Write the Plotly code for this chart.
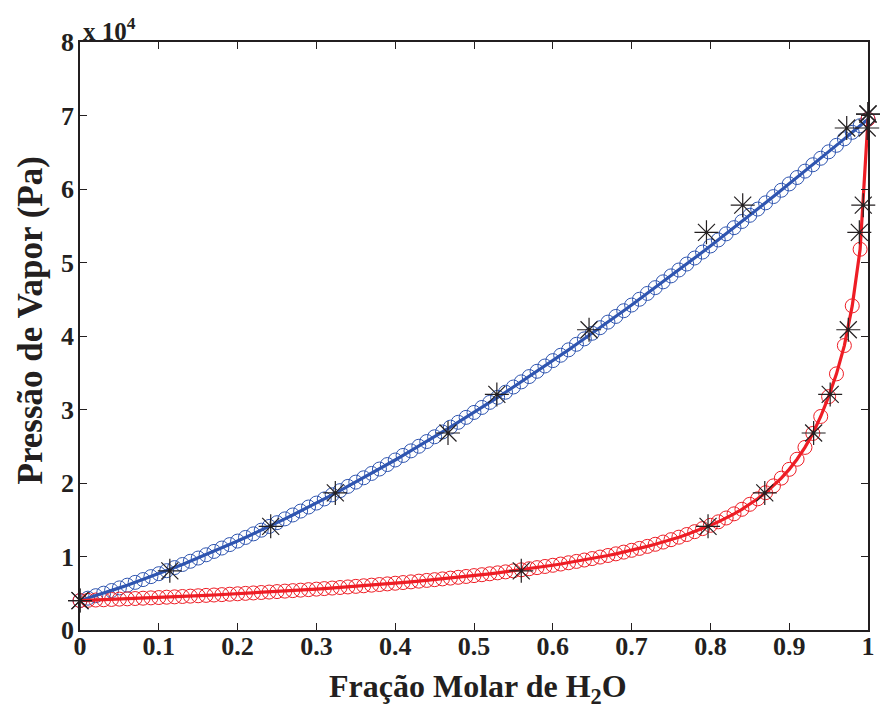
import plotly.graph_objects as go

# Liquid-phase grid (mole fraction of H2O) for the bubble curve
x_liq = [0.00, 0.01, 0.02, 0.03, 0.04, 0.05, 0.06, 0.07, 0.08, 0.09,
         0.10, 0.11, 0.12, 0.13, 0.14, 0.15, 0.16, 0.17, 0.18, 0.19,
         0.20, 0.21, 0.22, 0.23, 0.24, 0.25, 0.26, 0.27, 0.28, 0.29,
         0.30, 0.31, 0.32, 0.33, 0.34, 0.35, 0.36, 0.37, 0.38, 0.39,
         0.40, 0.41, 0.42, 0.43, 0.44, 0.45, 0.46, 0.47, 0.48, 0.49,
         0.50, 0.51, 0.52, 0.53, 0.54, 0.55, 0.56, 0.57, 0.58, 0.59,
         0.60, 0.61, 0.62, 0.63, 0.64, 0.65, 0.66, 0.67, 0.68, 0.69,
         0.70, 0.71, 0.72, 0.73, 0.74, 0.75, 0.76, 0.77, 0.78, 0.79,
         0.80, 0.81, 0.82, 0.83, 0.84, 0.85, 0.86, 0.87, 0.88, 0.89,
         0.90, 0.91, 0.92, 0.93, 0.94, 0.95, 0.96, 0.97, 0.98, 0.99,
         1.00]

# Bubble-point pressure (Pa)
p_bubble = [4000, 4330, 4670, 5010, 5370, 5730, 6100, 6480, 6860, 7260,
            7660, 8070, 8490, 8910, 9350, 9790, 10230, 10690, 11150, 11620,
            12100, 12590, 13080, 13580, 14090, 14600, 15120, 15650, 16180, 16730,
            17270, 17830, 18390, 18960, 19540, 20120, 20710, 21300, 21900, 22510,
            23130, 23750, 24370, 25000, 25640, 26290, 26940, 27600, 28260, 28930,
            29600, 30280, 30970, 31660, 32350, 33060, 33760, 34480, 35200, 35920,
            36650, 37380, 38120, 38870, 39610, 40370, 41130, 41890, 42660, 43440,
            44210, 45000, 45790, 46580, 47370, 48180, 48980, 49790, 50610, 51420,
            52250, 53070, 53900, 54740, 55580, 56420, 57270, 58120, 58970, 59830,
            60690, 61560, 62430, 63300, 64180, 65060, 65940, 66820, 67710, 68610,
            69500]

# Vapour-phase grid (mole fraction of H2O) for the dew curve
y_vap = [0.00, 0.01, 0.02, 0.03, 0.04, 0.05, 0.06, 0.07, 0.08, 0.09,
         0.10, 0.11, 0.12, 0.13, 0.14, 0.15, 0.16, 0.17, 0.18, 0.19,
         0.20, 0.21, 0.22, 0.23, 0.24, 0.25, 0.26, 0.27, 0.28, 0.29,
         0.30, 0.31, 0.32, 0.33, 0.34, 0.35, 0.36, 0.37, 0.38, 0.39,
         0.40, 0.41, 0.42, 0.43, 0.44, 0.45, 0.46, 0.47, 0.48, 0.49,
         0.50, 0.51, 0.52, 0.53, 0.54, 0.55, 0.56, 0.57, 0.58, 0.59,
         0.60, 0.61, 0.62, 0.63, 0.64, 0.65, 0.66, 0.67, 0.68, 0.69,
         0.70, 0.71, 0.72, 0.73, 0.74, 0.75, 0.76, 0.77, 0.78, 0.79,
         0.80, 0.81, 0.82, 0.83, 0.84, 0.85, 0.86, 0.87, 0.88, 0.89,
         0.90, 0.91, 0.92, 0.93, 0.94, 0.95, 0.96, 0.97, 0.98, 0.99,
         1.00]

# Dew-point pressure (Pa)
p_dew = [4000, 4038, 4077, 4116, 4157, 4198, 4240, 4283, 4326, 4371,
         4416, 4463, 4510, 4559, 4608, 4659, 4709, 4762, 4815, 4870,
         4926, 4984, 5042, 5102, 5163, 5226, 5290, 5355, 5422, 5491,
         5561, 5633, 5706, 5781, 5858, 5937, 6018, 6101, 6186, 6273,
         6363, 6455, 6549, 6646, 6745, 6847, 6952, 7060, 7171, 7285,
         7402, 7523, 7648, 7777, 7910, 8047, 8188, 8335, 8486, 8643,
         8806, 8974, 9149, 9331, 9521, 9718, 9923, 10138, 10362, 10597,
         10843, 11102, 11375, 11662, 11965, 12287, 12628, 12991, 13379, 13794,
         14239, 14719, 15239, 15804, 16422, 17099, 17847, 18679, 19610, 20660,
         21857, 23236, 24843, 26744, 29050, 31750, 34850, 38700, 44100, 51800,
         69500]

# Experimental points
p_exp = [4000, 8050, 14100, 18650, 26800, 32050, 40850, 54100, 57800, 68300, 70200]
x_exp = [0.000, 0.114, 0.242, 0.324, 0.467, 0.529, 0.646, 0.795, 0.841, 0.973, 1.000]
y_exp = [0.000, 0.560, 0.797, 0.869, 0.931, 0.952, 0.975, 0.989, 0.994, 0.999, 1.000]

x_ticks = [0, 0.1, 0.2, 0.3, 0.4, 0.5, 0.6, 0.7, 0.8, 0.9, 1]
x_ticklabels = ["0", "0.1", "0.2", "0.3", "0.4", "0.5", "0.6", "0.7", "0.8", "0.9", "1"]
y_ticks = [0, 10000, 20000, 30000, 40000, 50000, 60000, 70000, 80000]
y_ticklabels = ["0", "1", "2", "3", "4", "5", "6", "7", "8"]

BLUE = "#2f55b0"
RED = "#ee1d25"
INK = "#231f20"
FONT = "Liberation Serif"

fig = go.Figure()

fig.add_trace(go.Scatter(x=x_liq, y=p_bubble, mode="markers", cliponaxis=False,
                         marker=dict(symbol="circle-open", size=14, color=BLUE,
                                     line=dict(width=1, color=BLUE))))
fig.add_trace(go.Scatter(x=y_vap, y=p_dew, mode="markers", cliponaxis=False,
                         marker=dict(symbol="circle-open", size=14, color=RED,
                                     line=dict(width=1, color=RED))))
fig.add_trace(go.Scatter(x=x_liq, y=p_bubble, mode="lines", cliponaxis=False,
                         line=dict(color=BLUE, width=3.2)))
fig.add_trace(go.Scatter(x=y_vap, y=p_dew, mode="lines", cliponaxis=False,
                         line=dict(color=RED, width=3.2)))
fig.add_trace(go.Scatter(x=x_exp, y=p_exp, mode="markers", cliponaxis=False,
                         marker=dict(symbol="asterisk-open", size=20, color=INK,
                                     line=dict(width=1.2, color=INK))))
fig.add_trace(go.Scatter(x=y_exp, y=p_exp, mode="markers", cliponaxis=False,
                         marker=dict(symbol="asterisk-open", size=20, color=INK,
                                     line=dict(width=1.2, color=INK))))

axis_common = dict(ticks="inside", ticklen=7, tickwidth=1, tickcolor=INK,
                   showline=True, linecolor=INK, linewidth=1.5, mirror="ticks",
                   showgrid=False, zeroline=False,
                   tickfont=dict(family=FONT, size=26, color=INK, weight="bold"))

fig.update_xaxes(range=[0, 1], tickvals=x_ticks, ticktext=x_ticklabels,
                 ticklabelstandoff=-8, **axis_common)
fig.update_yaxes(range=[0, 80000], tickvals=y_ticks, ticktext=y_ticklabels,
                 ticklabelstandoff=-1, **axis_common)

fig.update_layout(
    width=884, height=717,
    margin=dict(l=80, r=9, t=42, b=87),
    plot_bgcolor="white", paper_bgcolor="white",
    showlegend=False,
    annotations=[
        dict(text="x 10<sup>4</sup>", xref="paper", yref="paper", x=0.001, y=0.991,
             xanchor="left", yanchor="bottom", showarrow=False,
             font=dict(family=FONT, size=25, color=INK, weight="bold")),
        dict(text="Fração Molar de H<sub>2</sub>O", xref="paper", yref="paper",
             x=0.505, y=-0.1, xanchor="center", yanchor="middle", showarrow=False,
             font=dict(family=FONT, size=32, color=INK, weight="bold")),
        dict(text="Pressão de Vapor (Pa)", xref="paper", yref="paper",
             x=-0.063, y=0.527, xanchor="center", yanchor="middle", textangle=-90,
             showarrow=False,
             font=dict(family=FONT, size=35, color=INK, weight="bold")),
    ],
)

fig.write_html("out.html")
